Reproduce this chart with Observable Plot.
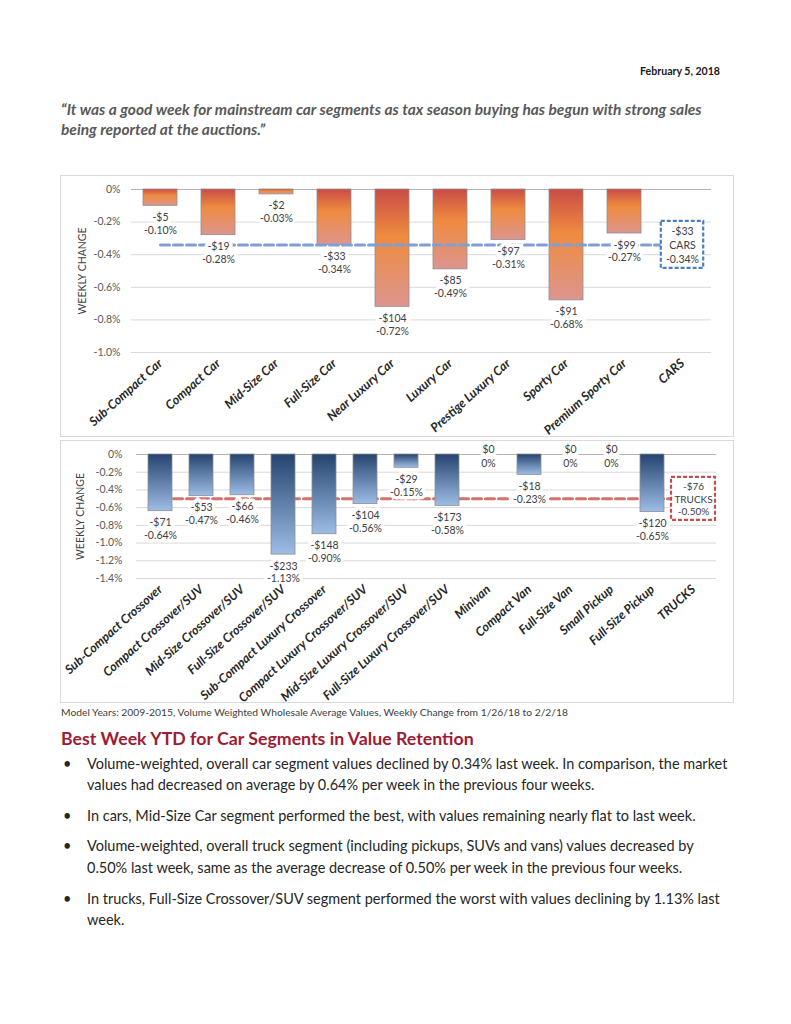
<!DOCTYPE html>
<html><head><meta charset="utf-8">
<script src="https://cdn.jsdelivr.net/npm/d3@7"></script>
<script src="https://cdn.jsdelivr.net/npm/@observablehq/plot@0.6"></script>
<style>
body{margin:0;background:#fff;}
#page{position:relative;width:791px;height:1024px;overflow:hidden;font-family:Lato,"Open Sans",sans-serif;background:#fff;}
.t{position:absolute;white-space:nowrap;line-height:1.2;}
.chart{position:absolute;}
.chart svg{display:block;}
.frame{position:absolute;border:1px solid #d9d9d9;box-sizing:border-box;pointer-events:none;}
</style></head>
<body><div id="page"></div>
<script>
// ---- data ----
const carSegments = ["Sub-Compact Car","Compact Car","Mid-Size Car","Full-Size Car","Near Luxury Car","Luxury Car","Prestige Luxury Car","Sporty Car","Premium Sporty Car","CARS"];
const carPct = [-0.10,-0.28,-0.03,-0.34,-0.72,-0.49,-0.31,-0.68,-0.27];
const carDollar = [-5,-19,-2,-33,-104,-85,-97,-91,-99];
const carsTotalPct = -0.34;
const carsTotalDollar = -33;
const carTicks = [0,-0.2,-0.4,-0.6,-0.8,-1.0];

const truckSegments = ["Sub-Compact Crossover","Compact Crossover/SUV","Mid-Size Crossover/SUV","Full-Size Crossover/SUV","Sub-Compact Luxury Crossover","Compact Luxury Crossover/SUV","Mid-Size Luxury Crossover/SUV","Full-Size Luxury Crossover/SUV","Minivan","Compact Van","Full-Size Van","Small Pickup","Full-Size Pickup","TRUCKS"];
const truckPct = [-0.64,-0.47,-0.46,-1.13,-0.90,-0.56,-0.15,-0.58,0,-0.23,0,0,-0.65];
const truckDollar = [-71,-53,-66,-233,-148,-104,-29,-173,0,-18,0,0,-120];
const trucksTotalPct = -0.50;
const trucksTotalDollar = -76;
const truckTicks = [0,-0.2,-0.4,-0.6,-0.8,-1.0,-1.2,-1.4];

// ---- helpers ----
const fmtD = v => v === 0 ? "$0" : (v < 0 ? "-" : "") + "$" + Math.abs(v);
const fmtP = v => v === 0 ? "0%" : v.toFixed(2) + "%";
const fmtTick = v => v === 0 ? "0%" : v.toFixed(1) + "%";

function defsMark(id, stops) {
  return () => {
    const g = document.createElementNS("http://www.w3.org/2000/svg", "g");
    g.innerHTML = `<defs><linearGradient id="${id}" x1="0" y1="0" x2="0" y2="1">${
      stops.map(([o, c]) => `<stop offset="${o}" stop-color="${c}"/>`).join("")}</linearGradient></defs>`;
    return g;
  };
}

function barChart(o) {
  const rows = o.segments.slice(0, -1).map((s, i) => ({segment: s, pct: o.pct[i], dollar: o.dollar[i]}));
  const totalSeg = o.segments[o.segments.length - 1];
  const total = [{segment: totalSeg, pct: o.totalPct, dollar: o.totalDollar}];
  const avgLine = Plot.line(o.segments, {x: d => d, y: () => o.totalPct, stroke: o.avgColor, strokeWidth: 3, strokeDasharray: o.dash});
  const lblFont = 10.5;
  return Plot.plot({
    width: o.width, height: o.height,
    marginLeft: o.ml, marginRight: o.mr, marginTop: o.mt, marginBottom: o.mb,
    x: {domain: o.segments, paddingInner: 0.42, paddingOuter: 0.21, axis: null},
    y: {domain: [o.ticks[o.ticks.length - 1], 0], axis: null},
    style: {fontFamily: "Lato, 'Open Sans', sans-serif", background: "white", color: "#404040", overflow: "visible"},
    marks: [
      defsMark(o.gradId, o.stops),
      Plot.ruleY(o.ticks.filter(t => t !== 0), {stroke: "#d9d9d9", strokeWidth: 1}),
      Plot.ruleY([0], {stroke: "#b3b3b3", strokeWidth: 1}),
      o.lineOnTop ? null : avgLine,
      Plot.barY(rows.filter(d => d.pct !== 0), {x: "segment", y1: 0, y2: "pct", fill: `url(#${o.gradId})`, stroke: "#8f8f8f", strokeWidth: 0.8}),
      o.lineOnTop ? avgLine : null,
      Plot.text(rows.filter(d => d.pct !== 0), {x: "segment", y: "pct", text: d => fmtD(d.dollar) + "\n" + fmtP(d.pct),
        lineAnchor: "top", dy: 6, lineHeight: 1.22, fontSize: lblFont, fill: "#404040", stroke: "white", strokeWidth: 7, strokeLinejoin: "round"}),
      Plot.text(rows.filter(d => d.pct === 0), {x: "segment", y: "pct", text: d => fmtD(d.dollar) + "\n" + fmtP(d.pct),
        lineAnchor: "middle", dy: 1, lineHeight: 1.33, fontSize: lblFont, fill: "#404040", stroke: "white", strokeWidth: 7, strokeLinejoin: "round"}),
      Plot.barY(total, {x: "segment", y1: "pct", y2: "pct", insetTop: o.boxInsetY, insetBottom: o.boxInsetY, insetLeft: o.boxInsetX, insetRight: o.boxInsetX,
        fill: "white", stroke: o.boxColor, strokeWidth: 2.2, strokeDasharray: "4,2"}),
      Plot.text(total, {x: "segment", y: "pct", text: d => fmtD(d.dollar) + "\n" + o.totalLabel + "\n" + fmtP(d.pct),
        lineAnchor: "middle", lineHeight: o.boxLH, fontSize: o.boxFont, fill: "#404040"}),
      Plot.axisY({ticks: o.ticks, tickFormat: fmtTick, tickSize: 0, tickPadding: o.ytp, fontSize: 10.5, fill: "#595959", label: null}),
      Plot.text(["WEEKLY CHANGE"], {frameAnchor: "left", textAnchor: "middle", text: d => d, rotate: -90, dx: o.titleDx, fontSize: 10.5, fill: "#404040"}),
      Plot.axisX({tickRotate: -42, tickSize: 0, tickPadding: o.xtp, fontSize: 12.5, fontWeight: "bold", fontStyle: "italic", fill: "#262626", label: null})
    ]
  });
}

const page = document.getElementById("page");
function place(node, left, top, w, h) {
  const d = document.createElement("div");
  d.className = "chart";
  d.style.left = left + "px"; d.style.top = top + "px";
  d.appendChild(node);
  page.appendChild(d);
  const f = document.createElement("div");
  f.className = "frame";
  Object.assign(f.style, {left: left + "px", top: top + "px", width: w + "px", height: h + "px"});
  page.appendChild(f);
}

place(barChart({
  segments: carSegments, pct: carPct, dollar: carDollar, totalPct: carsTotalPct, totalDollar: carsTotalDollar, totalLabel: "CARS",
  ticks: carTicks, gradId: "carGrad", stops: [[0, "#c94c46"], [0.4, "#ef8b3f"], [1, "#dc958f"]],
  avgColor: "#7f9fd3", boxColor: "#4a7fc1", dash: "9,4", lineOnTop: true,
  width: 674, height: 262, ml: 71, mr: 23, mt: 14, mb: 85,
  boxInsetX: -4.2, boxInsetY: -23.5, boxLH: 1.33, boxFont: 10.5, ytp: 11, titleDx: -49, xtp: 9
}), 60, 175, 674, 262);

place(barChart({
  segments: truckSegments, pct: truckPct, dollar: truckDollar, totalPct: trucksTotalPct, totalDollar: trucksTotalDollar, totalLabel: "TRUCKS",
  ticks: truckTicks, gradId: "truckGrad", stops: [[0, "#24446f"], [1, "#9dbde6"]],
  avgColor: "#d4716c", boxColor: "#c0504d", dash: "9,4", lineOnTop: false,
  width: 674, height: 263, ml: 76, mr: 18, mt: 14, mb: 125,
  boxInsetX: -10, boxInsetY: -21.5, boxLH: 1.25, boxFont: 10, ytp: 14, titleDx: -56, xtp: 9
}), 60, 440, 674, 263);

// ---- page text ----
const texts = [
  {g: "date", t: "February 5, 2018", cy: 72, right: 720, css: "font-weight:700;color:#1a1a1a;"},
  {g: "quote", t: "\u201cIt was a good week for mainstream car segments as tax season buying has begun with strong sales", cy: 111, left: 61, css: "font-weight:700;font-style:italic;color:#595959;"},
  {g: "quote", t: "being reported at the auctions.\u201d", cy: 131, left: 61, css: "font-weight:700;font-style:italic;color:#595959;"},
  {g: "cap", t: "Model Years: 2009-2015, Volume Weighted Wholesale Average Values, Weekly Change from 1/26/18 to 2/2/18", cy: 713, left: 61, css: "color:#404040;"},
  {g: "head", t: "Best Week YTD for Car Segments in Value Retention", cy: 740, left: 61, css: "font-weight:700;color:#9e1b34;"},
  {g: "body", t: "Volume-weighted, overall car segment values declined by 0.34% last week. In comparison, the market", cy: 765, left: 87, bullet: true},
  {g: "body", t: "values had decreased on average by 0.64% per week in the previous four weeks.", cy: 786, left: 87},
  {g: "body", t: "In cars, Mid-Size Car segment performed the best, with values remaining nearly flat to last week.", cy: 817, left: 87, bullet: true},
  {g: "body", t: "Volume-weighted, overall truck segment (including pickups, SUVs and vans) values decreased by", cy: 847, left: 87, bullet: true},
  {g: "body", t: "0.50% last week, same as the average decrease of 0.50% per week in the previous four weeks.", cy: 869, left: 87},
  {g: "body", t: "In trucks, Full-Size Crossover/SUV segment performed the worst with values declining by 1.13% last", cy: 900, left: 87, bullet: true},
  {g: "body", t: "week.", cy: 921, left: 87}
];
const groupFit = {date: ["February 5, 2018", 80], quote: [texts[1].t, 641], cap: [texts[3].t, 508], head: [texts[4].t, 413], body: [texts[5].t, 641]};
const groupCss = {date: "font-weight:700;", quote: "font-weight:700;font-style:italic;", cap: "", head: "font-weight:700;", body: ""};
const sizes = {};
for (const g in groupFit) {
  const s = document.createElement("span");
  s.className = "t";
  s.style.cssText = groupCss[g] + "font-size:20px;visibility:hidden;";
  s.textContent = groupFit[g][0];
  page.appendChild(s);
  const w = s.getBoundingClientRect().width;
  sizes[g] = 20 * groupFit[g][1] / w;
  s.remove();
}
for (const d of texts) {
  const F = sizes[d.g];
  const e = document.createElement("div");
  e.className = "t";
  e.style.cssText = (d.css || "color:#262626;") + `font-size:${F}px;top:${d.cy - 0.68 * F}px;`;
  if (d.right != null) e.style.right = (791 - d.right) + "px"; else e.style.left = d.left + "px";
  e.textContent = d.t;
  page.appendChild(e);
  if (d.bullet) {
    const b = document.createElement("div");
    b.className = "t";
    b.style.cssText = `color:#262626;font-size:${F}px;top:${d.cy - 0.68 * F}px;left:63px;`;
    b.textContent = "\u2022";
    page.appendChild(b);
  }
}
</script>
</body></html>
